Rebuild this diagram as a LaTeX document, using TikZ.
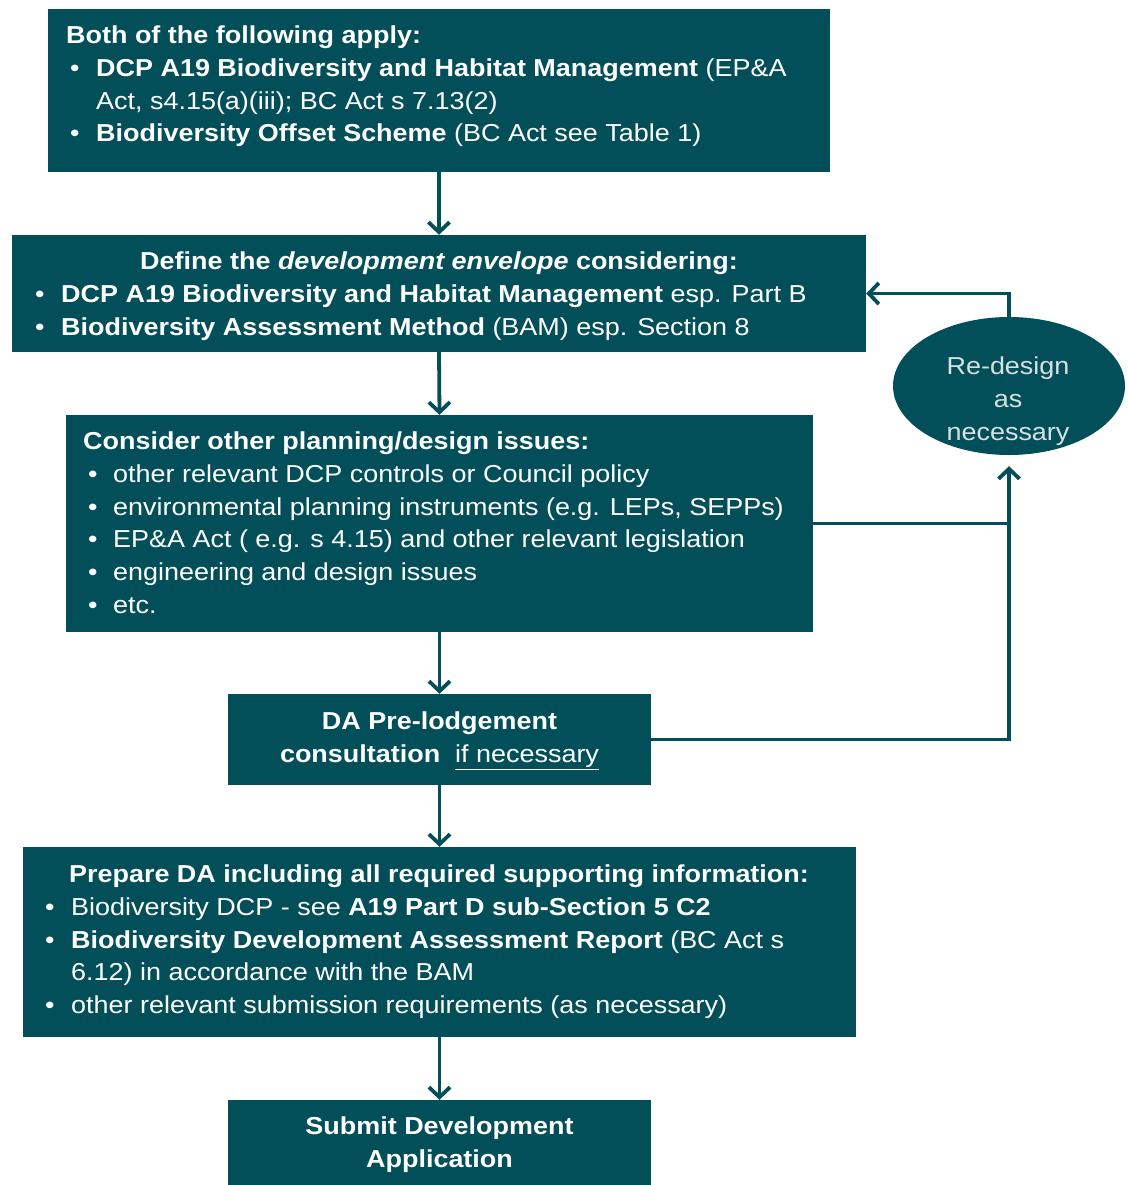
\documentclass[tikz,border=0pt]{standalone}
\usepackage{fontspec}
\setmainfont[FakeStretch=1.1]{Liberation Sans}
\usetikzlibrary{arrows.meta,shapes.geometric}
\definecolor{teal1}{HTML}{024F5A}
\definecolor{ellText}{HTML}{D8E0E2}
\newcommand{\bul}{\makebox[26pt][l]{•}}
\newcommand{\bulc}{\makebox[25pt][l]{•}}
\newcommand{\ind}{\hspace*{26pt}}
\begin{document}
\begin{tikzpicture}[x=1pt,y=-1pt,
  boxnode/.style={draw=none,fill=teal1,rectangle,inner sep=0pt},
  txt/.style={text=white,inner sep=0pt,anchor=base west,yshift=-1.5pt,font=\fontsize{24.5}{32.7}\selectfont},
  ctxt/.style={txt,anchor=base},
  conn/.style={draw=teal1,line width=3.8pt},
  arr/.style={conn,-{Straight Barb[length=10pt,width=21pt]}}]
\useasboundingbox (0,0) rectangle (1127,1185);
\clip (0,0) rectangle (1127,1185);
% boxes
\node[boxnode,minimum width=782pt,minimum height=163pt] (b1) at (439,90.5) {};
\node[boxnode,minimum width=854pt,minimum height=117pt] (b2) at (439,293.5) {};
\node[boxnode,minimum width=747pt,minimum height=217pt] (b3) at (439.5,523.5) {};
\node[boxnode,minimum width=423pt,minimum height=91pt] (b4) at (439.5,739.5) {};
\node[boxnode,minimum width=833pt,minimum height=190pt] (b5) at (439.5,942) {};
\node[boxnode,minimum width=423pt,minimum height=100pt] (b6) at (439.5,1150) {};
\node[ellipse,fill=teal1,inner sep=0pt,minimum width=232pt,minimum height=138pt] (ell) at (1009,386) {};
% texts
\node[txt] (t1h) at (66,42) {\textbf{Both of the following apply:}};
\node[txt] (t1l) at (70,75) {\parbox[t]{800pt}{\bul\textbf{DCP A19 Biodiversity and Habitat Management} (EP\&A\\
\ind Act, s4.15(a)(iii); BC Act s 7.13(2)\\
\bul\textbf{Biodiversity Offset Scheme} (BC Act see Table 1)}};
\node[ctxt] (t2h) at (439,268) {\textbf{Define the \textit{development envelope} considering:}};
\node[txt] (t2l) at (35,301) {\parbox[t]{850pt}{\bul\textbf{DCP A19 Biodiversity and Habitat Management} esp. Part B\\
\bul\textbf{Biodiversity Assessment Method} (BAM) esp. Section 8}};
\node[txt] (t3h) at (83,448) {\textbf{Consider other planning/design issues:}};
\node[txt] (t3l) at (88,481) {\parbox[t]{800pt}{\bulc other relevant DCP controls or Council policy\\
\bulc environmental planning instruments (e.g. LEPs, SEPPs)\\
\bulc EP\&A Act ( e.g. s 4.15) and other relevant legislation\\
\bulc engineering and design issues\\
\bulc etc.}};
\node[ctxt] (t4a) at (439.5,728) {\textbf{DA Pre-lodgement}};
\node[ctxt] (t4b) at (439.5,761) {\textbf{consultation}\ \ \underline{if necessary}};
\node[ctxt] (t5h) at (439,881) {\textbf{Prepare DA including all required supporting information:}};
\node[txt] (t5l) at (45,914) {\parbox[t]{850pt}{\bul Biodiversity DCP - see \textbf{A19 Part D sub-Section 5 C2}\\
\bul\textbf{Biodiversity Development Assessment Report} (BC Act s\\
\ind 6.12) in accordance with the BAM\\
\bul other relevant submission requirements (as necessary)}};
\node[ctxt] (t6a) at (439.5,1133) {\textbf{Submit Development}};
\node[ctxt] (t6b) at (439.5,1166) {\textbf{Application}};
\node[ctxt,text=ellText] (e1) at (1008,373) {Re-design};
\node[ctxt,text=ellText] (e2) at (1008,406) {as};
\node[ctxt,text=ellText] (e3) at (1008,439) {necessary};
% connectors
\draw[arr] (b1.south) -- (b2.north);
\draw[arr] (b2.south) -- (b3.north);
\draw[arr] (b3.south) -- (b4.north);
\draw[arr] (b4.south) -- (b5.north);
\draw[arr] (b5.south) -- (b6.north);
\draw[arr,shorten >=11pt] (b4.east) -| (ell.south);
\draw[conn] (b3.east) -- (b3.east -| ell.south);
\draw[arr] (ell.north) |- (b2.east);
\end{tikzpicture}
\end{document}
